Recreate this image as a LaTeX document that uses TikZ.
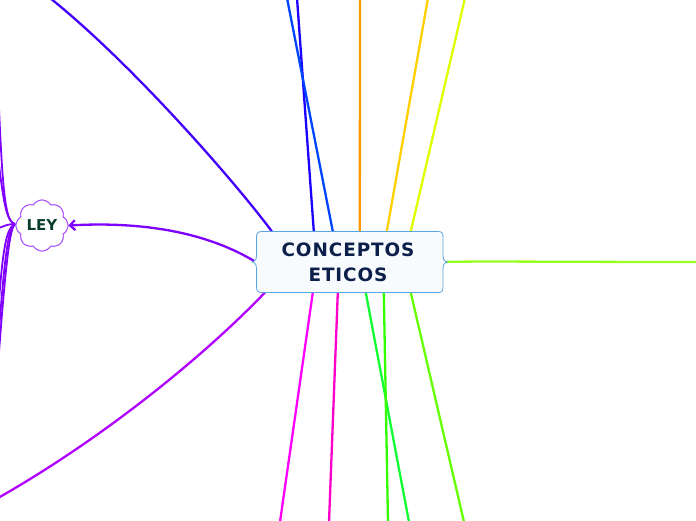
\documentclass[tikz,border=0pt]{standalone}
\usepackage{fontspec}
\setmainfont{DejaVu Sans}
\newfontfamily\mainbold[LetterSpace=5]{DejaVu Sans Bold}
\usetikzlibrary{shapes.symbols,arrows.meta,calc}
\definecolor{cindigo}{HTML}{4400FF}
\definecolor{cdblue}{HTML}{1A00FF}
\definecolor{clblue}{HTML}{0044FF}
\definecolor{corange}{HTML}{FF9900}
\definecolor{cgold}{HTML}{FFD000}
\definecolor{cyel}{HTML}{DDFF00}
\definecolor{clime}{HTML}{99FF22}
\definecolor{cmag}{HTML}{FF00FF}
\definecolor{cpink}{HTML}{FF00CC}
\definecolor{cgreenA}{HTML}{11FF33}
\definecolor{cgreenB}{HTML}{33FF00}
\definecolor{climeB}{HTML}{66FF00}
\definecolor{cpurple}{HTML}{8000FF}
\definecolor{cviolet}{HTML}{B000FF}
\definecolor{cnavy}{HTML}{0B1F4A}
\definecolor{cborder}{HTML}{5BA3DC}
\definecolor{cfill}{HTML}{F7FBFE}
\definecolor{cleyborder}{HTML}{A64DFF}
\definecolor{cleytext}{HTML}{0A3D2A}
\tikzset{
  conn/.style={line width=2.3pt},
  maintext/.style={font=\fontsize{18.4}{25}\selectfont\mainbold, text=cnavy, align=center, inner sep=0pt},
  leynode/.style={cloud, cloud puffs=8, cloud puff arc=120, aspect=1.05, draw=cleyborder, line width=0.9pt, fill=white, minimum width=52pt, minimum height=51pt, inner sep=0pt, font=\fontsize{15}{17}\selectfont\bfseries, text=cleytext},
}
\begin{document}
\begin{tikzpicture}[x=1pt,y=-1pt]
\useasboundingbox (0,0) rectangle (696,520);
% central node position
\node[maintext, minimum width=187pt, minimum height=61pt] (c) at (349.5,262) {};
% ley node
\node[leynode] (ley) at (42,225.5) {};
% free ends
\coordinate (e1) at (50,-2);
\coordinate (e2) at (297,-2);
\coordinate (e3) at (287,-2);
\coordinate (e4) at (360,-2);
\coordinate (e5) at (428,-2);
\coordinate (e6) at (465,-2);
\coordinate (e7) at (698,262);
\coordinate (e8) at (280,522);
\coordinate (e9) at (329,522);
\coordinate (e10) at (409,522);
\coordinate (e11) at (388,522);
\coordinate (e12) at (464,522);
\coordinate (e13) at (-2,498);
\coordinate (l1) at (-1,108);
\coordinate (l2) at (-1,165);
\coordinate (l3) at (-1,228);
\coordinate (l4) at (-1,300);
\coordinate (l5) at (-1,330);
\coordinate (l6) at (-1,352);
\coordinate (lw) at (15,224);
% connectors
\draw[conn, cindigo] ($(c.north west)+(16,0)$) .. controls (232,178) and (130,62) .. (e1);
\draw[conn, cdblue] ($(c.north west)+(58,0)$) -- (e2);
\draw[conn, clblue] ($(c.north west)+(77,0)$) -- (e3);
\draw[conn, corange] ($(c.north west)+(104,0)$) -- (e4);
\draw[conn, cgold] ($(c.north west)+(131,0)$) -- (e5);
\draw[conn, cyel] ($(c.north west)+(155,0)$) -- (e6);
\draw[conn, clime] (c.east) .. controls (470,261) and (560,262) .. (e7);
\draw[conn, cmag] ($(c.south west)+(57,0)$) -- (e8);
\draw[conn, cpink] ($(c.south west)+(82,0)$) -- (e9);
\draw[conn, cgreenA] ($(c.south west)+(110,0)$) -- (e10);
\draw[conn, cgreenB] ($(c.south west)+(128,0)$) -- (e11);
\draw[conn, climeB] ($(c.south west)+(155,0)$) -- (e12);
\draw[conn, cviolet] ($(c.south west)+(9,0)$) .. controls (200,360) and (100,440) .. (e13);
\draw[conn, cpurple, -{Straight Barb[length=5pt,width=10pt]}] (c.west) .. controls (200,228) and (130,222) .. (ley.east);
% ley outgoing
\draw[conn, cpurple, line width=1.8pt] (lw) .. controls (6,222) and (3,200) .. (l1);
\draw[conn, cpurple, line width=1.8pt] (lw) .. controls (7,222) and (4,205) .. (l2);
\draw[conn, cpurple, line width=1.8pt] (lw) .. controls (8,224) and (4,226) .. (l3);
\draw[conn, cpurple, line width=1.8pt] (lw) .. controls (6,228) and (3,250) .. (l4);
\draw[conn, cpurple, line width=1.8pt] (lw) .. controls (8,228) and (5,255) .. (l5);
\draw[conn, cpurple, line width=1.8pt] (lw) .. controls (10,228) and (6,260) .. (l6);
% redraw ley node on top
\node[leynode] at (ley) {LEY};
% central shape
\draw[draw=cborder, fill=cfill, line width=0.8pt]
  (262,231.5) -- (438,231.5)
  .. controls (442,231.5) and (443,233) .. (443,237)
  -- (443,255) .. controls (443,259) and (444,261.5) .. (447.5,262)
  .. controls (444,262.5) and (443,265) .. (443,269)
  -- (443,287) .. controls (443,291) and (442,292.5) .. (438,292.5)
  -- (262,292.5)
  .. controls (258,292.5) and (256.5,291) .. (256.5,287)
  -- (256.5,269) .. controls (256.5,265) and (255.5,262.5) .. (252,262)
  .. controls (255.5,261.5) and (256.5,259) .. (256.5,255)
  -- (256.5,237) .. controls (256.5,233) and (258,231.5) .. (262,231.5) -- cycle;
\node[maintext] at (348,262) {CONCEPTOS\\ETICOS};
\end{tikzpicture}
\end{document}
